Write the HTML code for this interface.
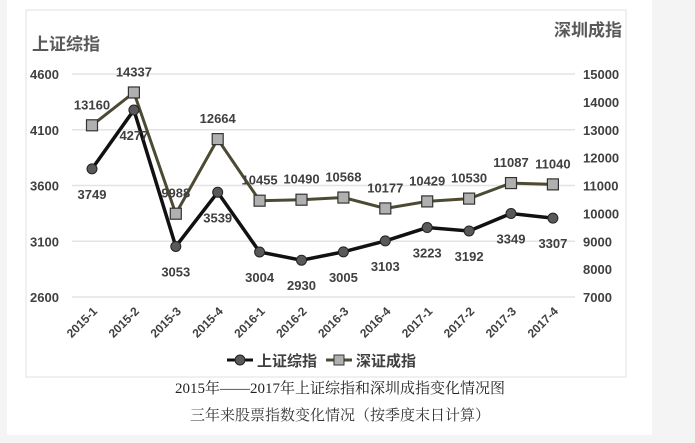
<!DOCTYPE html>
<html><head><meta charset="utf-8"><style>
body{margin:0;background:#f4f4f4;}
svg{display:block;}
</style></head><body>
<svg width="695" height="443" xmlns="http://www.w3.org/2000/svg" font-family="'Liberation Sans','Noto Sans CJK SC',sans-serif">
<rect x="7" y="0" width="645" height="435" fill="#fff"/>
<rect x="26" y="10" width="600" height="367" fill="#fff" stroke="#e0e0e0"/>
<text x="32" y="50" font-size="17" font-weight="bold" fill="#595959">上证综指</text>
<text x="622" y="36" font-size="17" font-weight="bold" fill="#595959" text-anchor="end">深圳成指</text>
<g id="grid"></g><g id="ticks"></g><g id="series"></g><g id="labels"></g>
<g>
<line x1="227" y1="360" x2="253" y2="360" stroke="#111" stroke-width="3"/><circle cx="240" cy="360" r="5" fill="#595959" stroke="#222"/>
<text x="257" y="366" font-size="15" font-weight="bold" fill="#404040">上证综指</text>
<line x1="326" y1="360" x2="352" y2="360" stroke="#4d4a33" stroke-width="3"/><rect x="334" y="355" width="10" height="10" fill="#b0b0b0" stroke="#333"/>
<text x="356" y="366" font-size="15" font-weight="bold" fill="#404040">深证成指</text>
</g>
<text x="340" y="393" font-family="'Liberation Serif','Noto Serif CJK SC',serif" font-size="15" fill="#222" text-anchor="middle">2015年——2017年上证综指和深圳成指变化情况图</text>
<text x="340" y="420" font-family="'Liberation Serif','Noto Serif CJK SC',serif" font-size="15" fill="#333" text-anchor="middle">三年来股票指数变化情况（按季度末日计算）</text>
</svg>
<script>
const categories=["2015-1","2015-2","2015-3","2015-4","2016-1","2016-2","2016-3","2016-4","2017-1","2017-2","2017-3","2017-4"];
const shValues=[3749,4277,3053,3539,3004,2930,3005,3103,3223,3192,3349,3307];
const szValues=[13160,14337,9988,12664,10455,10490,10568,10177,10429,10530,11087,11040];
const leftTicks=[2600,3100,3600,4100,4600];
const rightTicks=[7000,8000,9000,10000,11000,12000,13000,14000,15000];
const NS="http://www.w3.org/2000/svg";
const x=i=>92+i*41.9;
const yL=v=>297-(v-2600)*223/2000;
const yR=v=>297-(v-7000)*223/8000;
function mk(tag,attrs,parent,text){const e=document.createElementNS(NS,tag);for(const k in attrs)e.setAttribute(k,attrs[k]);if(text!==undefined)e.textContent=text;parent.appendChild(e);return e;}
const grid=document.getElementById('grid'),ticks=document.getElementById('ticks'),series=document.getElementById('series'),labels=document.getElementById('labels');
leftTicks.forEach(v=>{
 const l=mk('line',{x1:72,x2:575,y1:yL(v),y2:yL(v),stroke:'#e3e3e3','stroke-width':1.5},grid);
 
 
 const t=mk('text',{x:30,y:yL(v)+5,'font-size':13,'font-weight':'bold',fill:'#404040'},ticks,v);
 
 
});
rightTicks.forEach(v=>{
 const t=mk('text',{x:583,y:yR(v)+5,'font-size':13,'font-weight':'bold',fill:'#404040'},ticks,v);
 
 
});
categories.forEach((c,i)=>{
 const t=mk('text',{x:x(i)+6,y:312,'font-size':12,'font-weight':'bold',fill:'#404040','text-anchor':'end',transform:`rotate(-45 ${x(i)+6} 312)`},ticks,c);
 
 
});
const szp=szValues.map((v,i)=>x(i)+','+yR(v)).join(' ');
const szl=mk('polyline',{points:szp,fill:'none',stroke:'#4d4a33','stroke-width':3},series);


const shp=shValues.map((v,i)=>x(i)+','+yL(v)).join(' ');
const shl=mk('polyline',{points:shp,fill:'none',stroke:'#111','stroke-width':3.5},series);


szValues.forEach((v,i)=>{
 const r=mk('rect',{x:x(i)-5.5,y:yR(v)-5.5,width:11,height:11,fill:'#b0b0b0',stroke:'#333','stroke-width':1.2},series);
 
 
 const t=mk('text',{x:x(i),y:yR(v)-16,'font-size':13,'font-weight':'bold',fill:'#404040','text-anchor':'middle'},labels,v);
 
 
});
shValues.forEach((v,i)=>{
 const c=mk('circle',{cx:x(i),cy:yL(v),r:5,fill:'#595959',stroke:'#222'},series);
 
 
 const t=mk('text',{x:x(i),y:yL(v)+30,'font-size':13,'font-weight':'bold',fill:'#404040','text-anchor':'middle'},labels,v);
 
 
});
</script>
</body></html>
